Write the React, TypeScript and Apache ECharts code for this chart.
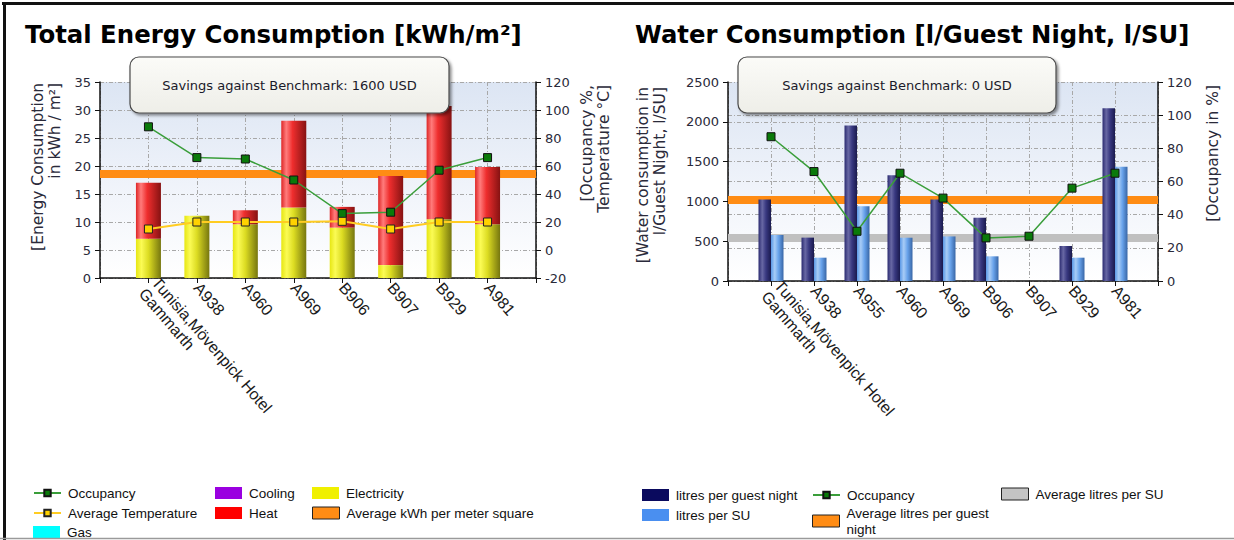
import React, { useEffect, useRef } from 'react';
import * as echarts from 'echarts';

// ---------- Data: Total Energy Consumption ----------
const energyCategories = ['Tunisia,Mövenpick Hotel\nGammarth', 'A938', 'A960', 'A969', 'B906', 'B907', 'B929', 'A981'];
const electricity = [7.0, 11.1, 9.6, 12.6, 9.0, 2.3, 10.5, 9.6];
const heat = [10.0, 0, 2.5, 15.5, 3.7, 15.9, 20.2, 10.2];
const cooling: number[] = [];
const gas: number[] = [];
const energyOccupancy = [88, 66, 65, 50, 26, 27, 57, 66];
const avgTemperature = [15, 20, 20, 20, 20.5, 15, 20, 20];
const avgKwhPerM2 = 18.6;
const energyLeftTicks = { min: 0, max: 35, interval: 5 };
const energyRightTicks = { min: -20, max: 120, interval: 20 };

// ---------- Data: Water Consumption ----------
const waterCategories = ['Tunisia,Mövenpick Hotel\nGammarth', 'A938', 'A955', 'A960', 'A969', 'B906', 'B907', 'B929', 'A981'];
const litresPerGuestNight = [1025, 545, 1955, 1330, 1025, 795, null, 440, 2170];
const litresPerSU = [578, 293, 938, 544, 560, 310, null, 293, 1436];
const waterOccupancy = [87, 66, 30, 65, 50, 26, 27, 56, 65];
const avgLitresPerGuestNight = 1020;
const avgLitresPerSU = 540;
const waterLeftTicks = { min: 0, max: 2500, interval: 500 };
const waterRightTicks = { min: 0, max: 120, interval: 20 };

// pad with empty slots at both ends (axis runs from an empty slot to an empty slot)
function pad(arr: any[]) {
  return [null, ...arr, null];
}
function padCats(arr: string[]) {
  return ['', ...arr, ' '];
}

const TICK_FONT = "'DejaVu Sans', sans-serif";
const LEGEND_FONT = "'Liberation Sans', Arial, sans-serif";

function hGrad(stops: [number, string][]) {
  return new echarts.graphic.LinearGradient(
    0, 0, 1, 0,
    stops.map(([offset, color]) => ({ offset, color }))
  );
}

const yellowGrad = hGrad([[0, '#e6e612'], [0.22, '#fbfb55'], [0.5, '#dcdc22'], [1, '#76760f']]);
const redGrad = hGrad([[0, '#de2626'], [0.2, '#ff7c7c'], [0.45, '#ef2e2e'], [1, '#861212']]);
const navyGrad = hGrad([[0, '#2a2a70'], [0.3, '#6868a4'], [0.6, '#383880'], [1, '#1a1a4e']]);
const blueGrad = hGrad([[0, '#5a98e6'], [0.3, '#a8ccf6'], [0.6, '#68a2ea'], [1, '#3866a6']]);
function plotBg() {
  return new echarts.graphic.LinearGradient(0, 0, 0, 1, [
    { offset: 0, color: '#dce5f3' },
    { offset: 0.6, color: '#f2f5fb' },
    { offset: 1, color: '#ffffff' },
  ]);
}

const gridLine = { show: true, lineStyle: { color: '#a8a8a8', type: [4, 2, 1, 2], width: 1 } };
const axisLineStyle = { show: true, lineStyle: { color: '#111', width: 1.5 } };
const tickLabel = {
  color: '#2a2a3a',
  fontFamily: TICK_FONT,
  fontSize: 13,
  margin: 9,
  formatter: (v: number) => String(v),
};

function xAxisFor(gridIndex: number, cats: string[]) {
  return {
    type: 'category',
    gridIndex,
    data: padCats(cats),
    boundaryGap: false,
    axisLine: axisLineStyle,
    axisTick: { show: true, interval: 0, length: 5, lineStyle: { color: '#111' } },
    axisLabel: {
      interval: 0,
      rotate: -49,
      color: '#1a1a1a',
      fontFamily: LEGEND_FONT,
      fontSize: 16,
      lineHeight: 17,
      margin: 7,
    },
    splitLine: gridLine,
  };
}

function yAxisFor(gridIndex: number, ticks: any, position: string, split: boolean) {
  return {
    type: 'value',
    gridIndex,
    position,
    ...ticks,
    axisLine: axisLineStyle,
    axisTick: { show: true, length: 5, lineStyle: { color: '#111' } },
    axisLabel: tickLabel,
    splitLine: split ? gridLine : { show: false },
  };
}

function legendAt(left: number, top: number, item: any, formatter?: any, iconH = 12) {
  return {
    left,
    top,
    orient: 'vertical',
    padding: 0,
    itemWidth: 27,
    itemHeight: iconH,
    itemGap: 6,
    selectedMode: false,
    textStyle: { fontFamily: LEGEND_FONT, fontSize: 13.5, color: '#111', lineHeight: 16, padding: [0, 0, 0, 2] },
    formatter,
    data: [item],
  };
}

function markLineAt(value: number, color: string) {
  return {
    silent: true,
    z: 1,
    symbol: 'none',
    label: { show: false },
    lineStyle: { color, width: 8, type: 'solid', opacity: 1 },
    data: [{ yAxis: value }],
  };
}

function savingsBox(x: number, y: number, w: number, h: number, label: string) {
  return {
    type: 'group',
    z: 100,
    children: [
      {
        type: 'rect',
        shape: { x, y, width: w, height: h, r: 9 },
        style: {
          fill: new echarts.graphic.LinearGradient(0, 0, 0, 1, [
            { offset: 0, color: '#fbfbf8' },
            { offset: 1, color: '#eeeee8' },
          ]),
          stroke: '#4a4a4a',
          lineWidth: 1.2,
          shadowBlur: 3,
          shadowOffsetX: 2,
          shadowOffsetY: 2,
          shadowColor: 'rgba(0,0,0,0.45)',
        },
        z: 100,
      },
      {
        type: 'text',
        x: x + w / 2,
        y: y + 28,
        z: 101,
        style: {
          text: label,
          fill: '#1a1a2a',
          font: `13px ${TICK_FONT}`,
          textAlign: 'center',
          textVerticalAlign: 'middle',
        },
      },
    ],
  };
}

function axisName(x: number, y: number, text: string) {
  return {
    type: 'text',
    x,
    y,
    rotation: Math.PI / 2,
    z: 50,
    style: {
      text,
      fill: '#2a2a3a',
      font: `15.5px ${TICK_FONT}`,
      textAlign: 'right',
      textVerticalAlign: 'top',
      lineHeight: 17,
    },
  };
}

const option: any = {
  animation: false,
  backgroundColor: '#ffffff',
  grid: [
    { left: 100, top: 82, width: 436, height: 196, show: true, borderWidth: 0, backgroundColor: plotBg(), containLabel: false },
    { left: 728, top: 82, width: 430, height: 199, show: true, borderWidth: 0, backgroundColor: plotBg(), containLabel: false },
  ],
  xAxis: [xAxisFor(0, energyCategories), xAxisFor(1, waterCategories)],
  yAxis: [
    yAxisFor(0, energyLeftTicks, 'left', true),
    yAxisFor(0, energyRightTicks, 'right', false),
    yAxisFor(1, waterLeftTicks, 'left', true),
    yAxisFor(1, waterRightTicks, 'right', true),
  ],
  legend: [
    legendAt(33, 485, 'Occupancy', undefined, 8),
    legendAt(33, 505, 'Average Temperature', undefined, 8),
    legendAt(33, 524, { name: 'Gas', icon: 'rect', itemStyle: { color: '#00ffff' } }),
    legendAt(215, 485, { name: 'Cooling', icon: 'rect', itemStyle: { color: '#9a00e0' } }),
    legendAt(215, 505, { name: 'Heat', icon: 'rect', itemStyle: { color: '#ff0000' } }),
    legendAt(312, 485, { name: 'Electricity', icon: 'rect', itemStyle: { color: '#f0f000' } }),
    legendAt(312, 505, {
      name: 'Average kWh per meter square',
      icon: 'rect',
      itemStyle: { color: '#ff8c14', borderColor: '#222', borderWidth: 1 },
    }),
    legendAt(642, 487, { name: 'litres per guest night', icon: 'rect', itemStyle: { color: '#0a0a5e' } }),
    legendAt(642, 507, { name: 'litres per SU', icon: 'rect', itemStyle: { color: '#4a8ff0' } }),
    legendAt(812, 487, 'Occupancy', undefined, 8),
    legendAt(
      812,
      505,
      {
        name: 'Average litres per guest night',
        icon: 'rect',
        itemStyle: { color: '#ff8c14', borderColor: '#222', borderWidth: 1 },
      },
      (name: string) => name.replace('guest night', 'guest\nnight')
    ),
    legendAt(1001, 486, {
      name: 'Average litres per SU',
      icon: 'rect',
      itemStyle: { color: '#c4c4c4', borderColor: '#222', borderWidth: 1 },
    }),
  ],
  series: [
    // ----- energy chart -----
    { name: 'Cooling', type: 'bar', xAxisIndex: 0, yAxisIndex: 0, stack: 'energy', barWidth: 25, data: pad(cooling), itemStyle: { color: '#9a00e0' } },
    { name: 'Gas', type: 'bar', xAxisIndex: 0, yAxisIndex: 0, stack: 'energy', barWidth: 25, data: pad(gas), itemStyle: { color: '#00ffff' } },
    { name: 'Electricity', type: 'bar', xAxisIndex: 0, yAxisIndex: 0, stack: 'energy', barWidth: 25, data: pad(electricity), itemStyle: { color: yellowGrad } },
    { name: 'Heat', type: 'bar', xAxisIndex: 0, yAxisIndex: 0, stack: 'energy', barWidth: 25, data: pad(heat), itemStyle: { color: redGrad } },
    {
      name: 'Average kWh per meter square', type: 'line', xAxisIndex: 0, yAxisIndex: 0, data: [], z: 1,
      itemStyle: { color: '#ff8c14' }, lineStyle: { color: '#ff8c14' },
      markLine: markLineAt(avgKwhPerM2, '#ff8c14'),
    },
    {
      name: 'Occupancy', type: 'line', xAxisIndex: 0, yAxisIndex: 1, data: pad(energyOccupancy), z: 10,
      symbol: 'rect', symbolSize: 8,
      itemStyle: { color: '#0a7a0a', borderColor: '#111', borderWidth: 1 },
      lineStyle: { color: '#3a9e3a', width: 1.5 },
    },
    {
      name: 'Average Temperature', type: 'line', xAxisIndex: 0, yAxisIndex: 1, data: pad(avgTemperature), z: 10,
      symbol: 'rect', symbolSize: 8,
      itemStyle: { color: '#ffd200', borderColor: '#222', borderWidth: 1 },
      lineStyle: { color: '#ffcc22', width: 2 },
    },
    // ----- water chart -----
    { name: 'litres per guest night', type: 'bar', xAxisIndex: 1, yAxisIndex: 2, barWidth: 12.5, barGap: '0%', data: pad(litresPerGuestNight), itemStyle: { color: navyGrad } },
    { name: 'litres per SU', type: 'bar', xAxisIndex: 1, yAxisIndex: 2, barWidth: 12.5, barGap: '0%', data: pad(litresPerSU), itemStyle: { color: blueGrad } },
    {
      name: 'Average litres per guest night', type: 'line', xAxisIndex: 1, yAxisIndex: 2, data: [], z: 1,
      itemStyle: { color: '#ff8c14' }, lineStyle: { color: '#ff8c14' },
      markLine: markLineAt(avgLitresPerGuestNight, '#ff8c14'),
    },
    {
      name: 'Average litres per SU', type: 'line', xAxisIndex: 1, yAxisIndex: 2, data: [], z: 1,
      itemStyle: { color: '#c4c4c4' }, lineStyle: { color: '#c4c4c4' },
      markLine: markLineAt(avgLitresPerSU, '#c0c0c0'),
    },
    {
      name: 'Occupancy', type: 'line', xAxisIndex: 1, yAxisIndex: 3, data: pad(waterOccupancy), z: 10,
      symbol: 'rect', symbolSize: 8,
      itemStyle: { color: '#0a7a0a', borderColor: '#111', borderWidth: 1 },
      lineStyle: { color: '#3a9e3a', width: 1.5 },
    },
  ],
  graphic: [
    // frame
    { type: 'line', z: 200, shape: { x1: 2, y1: 3.5, x2: 1234, y2: 3.5 }, style: { stroke: '#111', lineWidth: 3 } },
    { type: 'line', z: 200, shape: { x1: 4.5, y1: 2, x2: 4.5, y2: 540 }, style: { stroke: '#111', lineWidth: 3 } },
    { type: 'line', z: 200, shape: { x1: 0, y1: 538.5, x2: 1234, y2: 538.5 }, style: { stroke: '#9a9a9a', lineWidth: 1.5 } },
    // titles
    {
      type: 'text', x: 25, y: 34, z: 50,
      style: { text: 'Total Energy Consumption [kWh/m²]', fill: '#000', font: `bold 24.4px ${TICK_FONT}`, textVerticalAlign: 'middle' },
    },
    {
      type: 'text', x: 635, y: 34, z: 50,
      style: { text: 'Water Consumption [l/Guest Night, l/SU]', fill: '#000', font: `bold 24.3px ${TICK_FONT}`, textVerticalAlign: 'middle' },
    },
    // savings boxes
    savingsBox(130, 57, 319, 56, 'Savings against Benchmark: 1600 USD'),
    savingsBox(738, 57, 318, 56, 'Savings against Benchmark: 0 USD'),
    // axis names
    axisName(29, 83, '[Energy Consumption\nin kWh / m²]'),
    axisName(578, 85, '[Occupancy %,\nTemperature °C]'),
    axisName(634, 87, '[Water consumption in\nl/Guest Night, l/SU]'),
    axisName(1204, 85, '[Occupancy in %]'),
  ],
};

export default function App() {
  const ref = useRef<HTMLDivElement>(null);
  useEffect(() => {
    const chart = echarts.init(ref.current as HTMLDivElement, null, { renderer: 'svg' });
    chart.setOption(option);
    return () => chart.dispose();
  }, []);
  return (
    <div
      ref={ref}
      style={{ position: 'absolute', left: 0, top: 0, width: 1234, height: 540, background: '#fff' }}
    />
  );
}
